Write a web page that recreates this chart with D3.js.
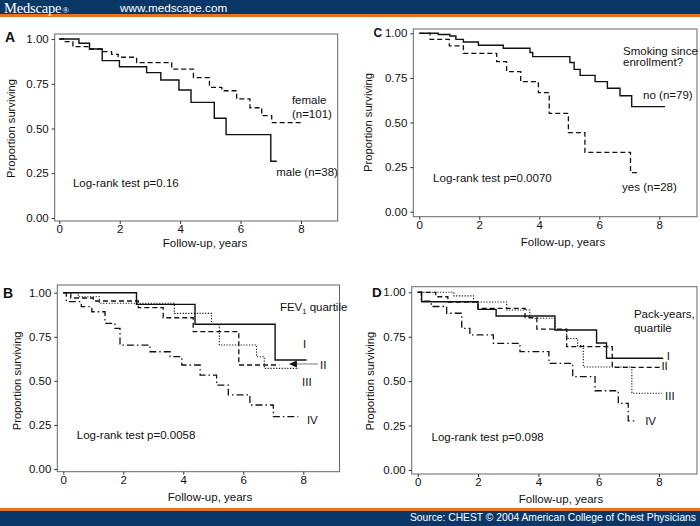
<!DOCTYPE html>
<html>
<head>
<meta charset="utf-8">
<script src="https://cdn.jsdelivr.net/npm/d3@7"></script>
<style>
  html, body { margin: 0; padding: 0; background: #fff; }
  svg { display: block; }
  text { font-family: "Liberation Sans", Arial, sans-serif; }
</style>
</head>
<body>
<div id="chart"></div>
<script>
// ---------------- DATA ----------------
const xTicks = [0, 2, 4, 6, 8];
const yTicks = [0, 0.25, 0.5, 0.75, 1];

// Panel A: sex
const A_male_t   = [0, 0.65, 1.0, 1.42, 1.99, 2.89, 3.36, 3.96, 4.36, 5.13, 5.52, 7.0, 7.2];
const A_male_s   = [1, 0.976, 0.944, 0.879, 0.845, 0.812, 0.771, 0.715, 0.646, 0.557, 0.466, 0.317, 0.317];
const A_female_t = [0, 0.15, 0.45, 1.0, 1.43, 1.73, 1.95, 2.56, 3.72, 4.44, 4.97, 5.38, 5.87, 6.31, 6.7, 7.03, 8.02];
const A_female_s = [1, 0.985, 0.957, 0.944, 0.929, 0.914, 0.898, 0.868, 0.832, 0.784, 0.73, 0.711, 0.665, 0.616, 0.572, 0.533, 0.533];

// Panel C: smoking since enrollment
const C_no_t  = [0, 0.63, 1.02, 1.22, 1.47, 1.97, 2.8, 3.69, 3.78, 5.02, 5.16, 5.36, 5.86, 6.27, 6.69, 7.08, 8.19];
const C_no_s  = [1, 0.993, 0.985, 0.966, 0.951, 0.933, 0.916, 0.892, 0.869, 0.836, 0.798, 0.764, 0.729, 0.692, 0.65, 0.589, 0.589];
const C_yes_t = [0, 0.36, 1.0, 1.47, 2.58, 2.91, 3.38, 3.97, 4.33, 4.97, 5.52, 7.04, 7.27];
const C_yes_s = [1, 0.966, 0.929, 0.888, 0.841, 0.785, 0.729, 0.667, 0.551, 0.443, 0.333, 0.219, 0.219];

// Panel B: FEV1 quartile
const B_I_t   = [0, 2.44, 4.39, 7.06, 8.11];
const B_I_s   = [1, 0.934, 0.821, 0.618, 0.618];
const B_II_t  = [0, 0.25, 1.0, 2.5, 3.33, 4.33, 5.85, 7.2];
const B_II_s  = [1, 0.97, 0.953, 0.915, 0.858, 0.779, 0.59, 0.59];
const B_III_t = [0, 0.5, 1.2, 3.7, 4.94, 5.2, 6.44, 6.7, 7.85];
const B_III_s = [1, 0.977, 0.94, 0.883, 0.82, 0.703, 0.637, 0.571, 0.571];
const B_IV_t  = [0, 0.1, 0.6, 0.95, 1.39, 1.72, 1.89, 2.89, 3.56, 3.95, 4.56, 5.11, 5.5, 6.22, 7.0, 7.83];
const B_IV_s  = [1, 0.949, 0.921, 0.892, 0.826, 0.798, 0.703, 0.665, 0.637, 0.59, 0.533, 0.476, 0.42, 0.363, 0.297, 0.297];

// Panel D: pack-years quartile
const D_I_t   = [0, 0.13, 2.0, 2.6, 4.55, 5.93, 6.26, 8.14];
const D_I_s   = [1, 0.947, 0.904, 0.867, 0.788, 0.715, 0.629, 0.629];
const D_II_t  = [0, 0.6, 1.0, 2.0, 3.56, 3.95, 4.94, 6.45, 8.04];
const D_II_s  = [1, 0.975, 0.945, 0.91, 0.857, 0.793, 0.694, 0.578, 0.578];
const D_III_t = [0, 1.2, 1.85, 2.95, 3.72, 4.55, 4.94, 5.3, 5.49, 7.1, 8.1];
const D_III_s = [1, 0.98, 0.945, 0.9, 0.854, 0.79, 0.74, 0.70, 0.58, 0.432, 0.432];
const D_IV_t  = [0, 0.12, 0.45, 0.96, 1.46, 1.73, 2.51, 3.39, 4.35, 5.14, 5.88, 6.65, 6.98, 7.26];
const D_IV_s  = [1, 0.95, 0.92, 0.882, 0.797, 0.76, 0.713, 0.666, 0.6, 0.525, 0.446, 0.375, 0.277, 0.277];

// Texts
const yLabel = "Proportion surviving";
const xLabel = "Follow-up, years";
const headerLogo = "Medscape";
const headerUrl = "www.medscape.com";
const footerText = "Source: CHEST \u00A9 2004 American College of Chest Physicians";

// ---------------- STYLES ----------------
const NAVY = "#0b3767", ORANGE = "#e8701f", INK = "#111";
const styles = {
  solid:   { dash: null,          w: 1.4 },
  dashed:  { dash: "5,3",         w: 1.3 },
  dotted:  { dash: "1.2,1.6",     w: 1.1 },
  dashdot: { dash: "7,3,1.5,3",   w: 1.3 }
};

const svg = d3.select("#chart").append("svg").attr("width", 700).attr("height", 526);

// Header / footer bands
svg.append("rect").attr("x", 0).attr("y", 0).attr("width", 700).attr("height", 14).attr("fill", NAVY);
svg.append("rect").attr("x", 0).attr("y", 14).attr("width", 700).attr("height", 3).attr("fill", ORANGE);
svg.append("rect").attr("x", 0).attr("y", 508).attr("width", 700).attr("height", 3).attr("fill", ORANGE);
svg.append("rect").attr("x", 0).attr("y", 511).attr("width", 700).attr("height", 15).attr("fill", NAVY);

const logo = svg.append("text").attr("x", 4).attr("y", 12.5)
  .style("font-family", "'Liberation Serif', 'Times New Roman', serif")
  .style("font-size", "14.5px").attr("fill", "#fff").attr("letter-spacing", "-0.2");
logo.append("tspan").text(headerLogo);
logo.append("tspan").text("\u00AE").style("font-size", "9px").attr("dx", 1);
svg.append("text").attr("x", 120).attr("y", 12).style("font-size", "11.7px").attr("fill", "#fff").text(headerUrl);
svg.append("text").attr("x", 696).attr("y", 521).attr("text-anchor", "end")
  .style("font-size", "10.3px").attr("fill", "#fff").text(footerText);

// ---------------- PANELS ----------------
function panel(cfg) {
  const g = svg.append("g");
  const x = d3.scaleLinear().domain([0, 8]).range([cfg.x0, cfg.x8]);
  const y = d3.scaleLinear().domain([0, 1]).range([cfg.y0, cfg.y1]);

  g.append("rect").attr("x", cfg.left).attr("y", cfg.top)
    .attr("width", cfg.right - cfg.left).attr("height", cfg.bottom - cfg.top)
    .attr("fill", "none").attr("stroke", "#666").attr("stroke-width", 1);

  const ya = g.append("g").attr("transform", `translate(${cfg.left},0)`)
    .call(d3.axisLeft(y).tickValues(yTicks).tickFormat(d3.format(".2f")).tickSize(3).tickPadding(3));
  const xa = g.append("g").attr("transform", `translate(0,${cfg.bottom})`)
    .call(d3.axisBottom(x).tickValues(xTicks).tickFormat(d3.format("d")).tickSize(3).tickPadding(1));
  [ya, xa].forEach(a => {
    a.select(".domain").remove();
    a.selectAll("line").attr("stroke", "#333");
    a.selectAll("text").attr("fill", INK).style("font-size", "11.5px")
      .style("font-family", "'Liberation Sans', Arial, sans-serif");
  });

  g.append("text").attr("transform", `translate(${cfg.ylabX},${(y(0) + y(1)) / 2}) rotate(-90)`)
    .attr("text-anchor", "middle").style("font-size", "11.2px").attr("fill", INK).text(yLabel);
  g.append("text").attr("x", cfg.xlabX).attr("y", cfg.xlabY)
    .attr("text-anchor", "middle").style("font-size", "11.5px").attr("fill", INK).text(xLabel);

  g.append("text").attr("x", cfg.letterX).attr("y", cfg.letterY)
    .style("font-size", cfg.letterSize + "px").style("font-weight", "bold").attr("fill", INK).text(cfg.letter);

  const line = d3.line().x(d => x(d[0])).y(d => y(d[1])).curve(d3.curveStepAfter);
  cfg.series.forEach(s => {
    const st = styles[s.style];
    g.append("path").datum(d3.zip(s.t, s.s)).attr("d", line)
      .attr("fill", "none").attr("stroke", INK).attr("stroke-width", st.w)
      .attr("stroke-dasharray", st.dash);
  });

  cfg.labels.forEach(l => {
    const t = g.append("text").attr("x", x(l.t)).attr("y", y(l.s))
      .style("font-size", "11.5px").attr("fill", INK);
    if (l.sub) {
      t.append("tspan").text(l.text);
      t.append("tspan").text(l.sub).style("font-size", "7.5px").attr("dy", 3);
      t.append("tspan").text(l.after).attr("dy", -3);
    } else {
      t.text(l.text);
    }
  });

  if (cfg.arrow) {
    const a = cfg.arrow;
    g.append("line").attr("x1", x(a.t1)).attr("x2", x(a.t2) + 5).attr("y1", y(a.s)).attr("y2", y(a.s))
      .attr("stroke", "#999").attr("stroke-width", 1.3);
    const hx = x(a.t2), hy = y(a.s);
    g.append("path").attr("d", d3.line()([[hx, hy], [hx + 8, hy - 3.5], [hx + 8, hy + 3.5]]) + "Z")
      .attr("fill", INK);
  }
}

panel({
  letter: "A", letterX: 5, letterY: 42, letterSize: 14,
  left: 54.7, right: 337.7, top: 34, bottom: 221,
  x0: 59.3, x8: 301, y1: 39, y0: 218,
  ylabX: 14.5, xlabX: 205, xlabY: 247,
  series: [
    { t: A_male_t, s: A_male_s, style: "solid" },
    { t: A_female_t, s: A_female_s, style: "dashed" }
  ],
  labels: [
    { text: "female", t: 7.7, s: 0.637 },
    { text: "(n=101)", t: 7.7, s: 0.559 },
    { text: "male (n=38)", t: 7.18, s: 0.235 },
    { text: "Log-rank test p=0.16", t: 0.45, s: 0.173 }
  ]
});

panel({
  letter: "C", letterX: 373.5, letterY: 37, letterSize: 12,
  left: 413.3, right: 697, top: 29, bottom: 216.7,
  x0: 419.3, x8: 659.3, y1: 33.3, y0: 211.7,
  ylabX: 372, xlabX: 563, xlabY: 246,
  series: [
    { t: C_no_t, s: C_no_s, style: "solid" },
    { t: C_yes_t, s: C_yes_s, style: "dashed" }
  ],
  labels: [
    { text: "Smoking since", t: 6.79, s: 0.878 },
    { text: "enrollment?", t: 6.79, s: 0.814 },
    { text: "no (n=79)", t: 7.46, s: 0.632 },
    { text: "yes (n=28)", t: 6.76, s: 0.116 },
    { text: "Log-rank test p=0.0070", t: 0.46, s: 0.167 }
  ]
});

panel({
  letter: "B", letterX: 3, letterY: 298, letterSize: 14,
  left: 57.3, right: 339.5, top: 285, bottom: 471.7,
  x0: 63.3, x8: 303.3, y1: 292.7, y0: 469,
  ylabX: 20.5, xlabX: 210, xlabY: 501,
  series: [
    { t: B_I_t, s: B_I_s, style: "solid" },
    { t: B_II_t, s: B_II_s, style: "dashed" },
    { t: B_III_t, s: B_III_s, style: "dotted" },
    { t: B_IV_t, s: B_IV_s, style: "dashdot" }
  ],
  labels: [
    { text: "FEV", sub: "1", after: " quartile", t: 7.22, s: 0.896 },
    { text: "I", t: 7.99, s: 0.686 },
    { text: "II", t: 8.56, s: 0.567 },
    { text: "III", t: 7.96, s: 0.471 },
    { text: "IV", t: 8.12, s: 0.255 },
    { text: "Log-rank test p=0.0058", t: 0.45, s: 0.17 }
  ],
  arrow: { t1: 8.49, t2: 7.52, s: 0.596 }
});

panel({
  letter: "D", letterX: 372, letterY: 297, letterSize: 13.5,
  left: 411.7, right: 697, top: 286.7, bottom: 474,
  x0: 417.7, x8: 659, y1: 292.3, y0: 470,
  ylabX: 374, xlabX: 561, xlabY: 503,
  series: [
    { t: D_I_t, s: D_I_s, style: "solid" },
    { t: D_II_t, s: D_II_s, style: "dashed" },
    { t: D_III_t, s: D_III_s, style: "dotted" },
    { t: D_IV_t, s: D_IV_s, style: "dashdot" }
  ],
  labels: [
    { text: "Pack-years,", t: 7.17, s: 0.855 },
    { text: "quartile", t: 7.17, s: 0.777 },
    { text: "I", t: 8.26, s: 0.619 },
    { text: "II", t: 8.08, s: 0.563 },
    { text: "III", t: 8.2, s: 0.394 },
    { text: "IV", t: 7.54, s: 0.253 },
    { text: "Log-rank test p=0.098", t: 0.46, s: 0.164 }
  ]
});
</script>
</body>
</html>
